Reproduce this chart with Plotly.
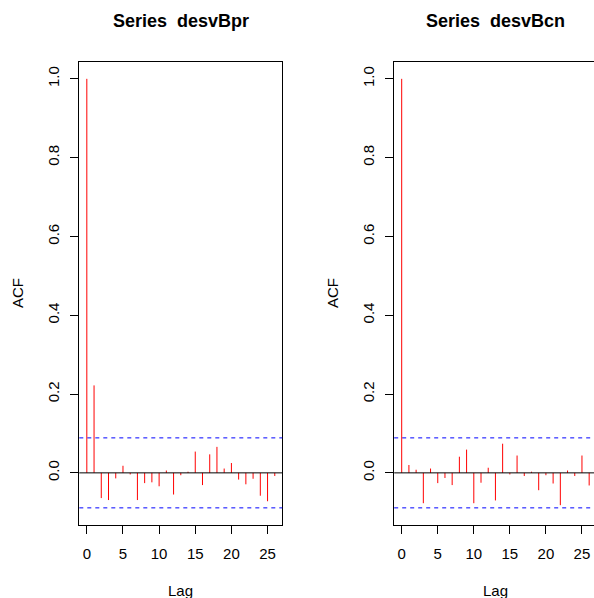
import plotly.graph_objects as go

lags = list(range(27))
acf_bpr = [1.0, 0.222, -0.064, -0.069, -0.014, 0.018, -0.004, -0.069, -0.026, -0.024,
           -0.034, 0.006, -0.055, -0.006, 0.003, 0.054, -0.031, 0.047, 0.066, 0.011,
           0.025, -0.017, -0.029, -0.015, -0.058, -0.072, -0.008]
acf_bcn = [1.0, 0.020, 0.008, -0.077, 0.011, -0.026, -0.013, -0.031, 0.041, 0.059,
           -0.077, -0.025, 0.013, -0.070, 0.074, -0.004, 0.044, -0.008, 0.003, -0.044,
           -0.006, -0.027, -0.082, 0.006, -0.008, 0.044, -0.032]
conf = 0.0888
titles = ["Series\u00a0 desvBpr", "Series\u00a0 desvBcn"]
x_ticks = [0, 5, 10, 15, 20, 25]
y_ticks = [0.0, 0.2, 0.4, 0.6, 0.8, 1.0]
y_tick_text = ["0.0", "0.2", "0.4", "0.6", "0.8", "1.0"]

W, H = 594, 598
font = "Liberation Sans, Arial, sans-serif"

dom1 = [79.3 / W, 282.3 / W]
dom2 = [394.2 / W, 1.0]
ydom = [(H - 525) / H, (H - 61.7) / H]
yr = [-0.1323, 1.0435]
xr1 = [-1.04, 27.04]
xr2 = [-1.04, 26.67]


def spikes(xs, ys):
    px, py = [], []
    for a, b in zip(xs, ys):
        px += [a, a, None]
        py += [0, b, None]
    return px, py


fig = go.Figure()
for i, vals in enumerate([acf_bpr, acf_bcn]):
    xa = "x" if i == 0 else "x2"
    ya = "y" if i == 0 else "y2"
    sx, sy = spikes(lags, vals)
    fig.add_trace(go.Scatter(x=sx, y=sy, mode="lines", line=dict(color="red", width=1),
                             xaxis=xa, yaxis=ya, showlegend=False, connectgaps=False))

axis_common = dict(showgrid=False, zeroline=False, showline=True, linecolor="black", linewidth=1,
                   ticks="outside", ticklen=8, tickcolor="black", tickwidth=1,
                   tickfont=dict(family=font, size=15, color="black"))

fig.update_layout(
    width=W, height=H, margin=dict(l=0, r=0, t=0, b=0),
    paper_bgcolor="white", plot_bgcolor="white",
    xaxis=dict(domain=dom1, range=xr1, anchor="y", mirror=True, tickvals=x_ticks,
               ticklabelstandoff=7, **axis_common),
    yaxis=dict(domain=ydom, range=yr, anchor="x", mirror=True, tickvals=y_ticks,
               ticktext=y_tick_text, tickangle=-90, ticklabelstandoff=5, **axis_common),
    xaxis2=dict(domain=dom2, range=xr2, anchor="y2", mirror=True, tickvals=x_ticks,
                ticklabelstandoff=7, **axis_common),
    yaxis2=dict(domain=ydom, range=yr, anchor="x2", mirror=False, tickvals=y_ticks,
                ticktext=y_tick_text, tickangle=-90, ticklabelstandoff=5, **axis_common),
)

shapes = []
for xd, yd in [("x domain", "y"), ("x2 domain", "y2")]:
    shapes.append(dict(type="line", xref=xd, yref=yd, x0=0, x1=1, y0=0, y1=0,
                       line=dict(color="black", width=1), layer="above"))
    for c in (conf, -conf):
        shapes.append(dict(type="line", xref=xd, yref=yd, x0=0, x1=1, y0=c, y1=c,
                           line=dict(color="blue", width=1, dash="4px,4px")))
fig.update_layout(shapes=shapes)

ann = []
centers = [(dom1[0] + dom1[1]) / 2, (394.2 + 596.7) / 2 / W]
acf_x = [17 / W, 332 / W]
for i in range(2):
    ann.append(dict(text="<b>" + titles[i] + "</b>", x=centers[i], y=(H - 20.5) / H, xref="paper",
                    yref="paper", showarrow=False, xanchor="center", yanchor="middle",
                    font=dict(family=font, size=18, color="black")))
    ann.append(dict(text="Lag", x=centers[i], y=(H - 590) / H, xref="paper", yref="paper",
                    showarrow=False, xanchor="center", yanchor="middle",
                    font=dict(family=font, size=15, color="black")))
    ann.append(dict(text="ACF", x=acf_x[i], y=(H - 293) / H, xref="paper", yref="paper",
                    showarrow=False, xanchor="center", yanchor="middle", textangle=-90,
                    font=dict(family=font, size=15, color="black")))
fig.update_layout(annotations=ann)

fig.write_html("out.html")
